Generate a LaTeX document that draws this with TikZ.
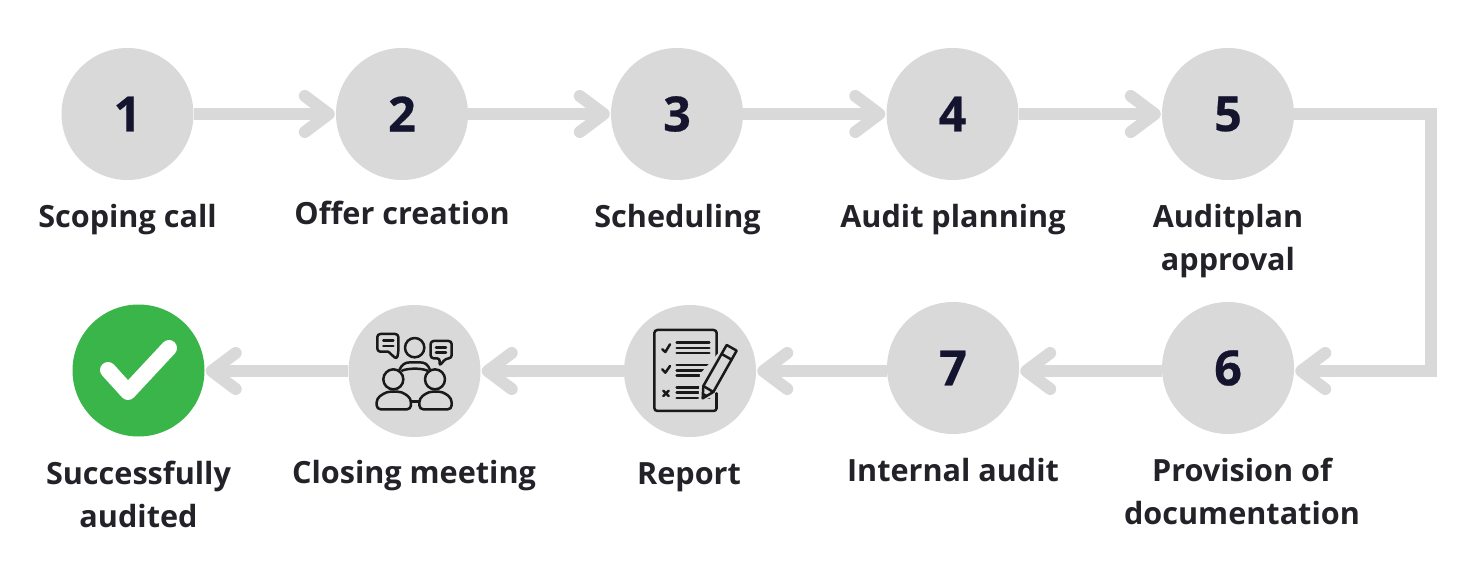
\documentclass[tikz,border=0pt]{standalone}
\usepackage{fontspec}
\setmainfont{Open Sans}
\newfontfamily\digitfont[UprightFont=* Bold,FakeBold=0.5]{Open Sans}
\usetikzlibrary{arrows.meta}
\definecolor{greyc}{HTML}{D9D9D9}
\definecolor{navy}{HTML}{14142E}
\definecolor{labelc}{HTML}{222228}
\definecolor{okgreen}{HTML}{3AB54A}
\tikzset{
  x=1pt,y=-1pt,
  stepcirc/.style={circle,fill=greyc,minimum size=132pt,inner sep=0pt,font=\fontsize{48.5}{48.5}\selectfont\digitfont,text=navy},
  lab/.style={font=\fontsize{30.6}{43}\selectfont\bfseries,text=labelc,align=center,anchor=center,inner sep=0pt},
  flow/.style={draw=greyc,line width=12pt,-{Straight Barb[length=24pt,width=36pt,line cap=round,line join=round,round]},shorten >=1pt},
  flowplain/.style={draw=greyc,line width=12pt},
  ico/.style={draw=black!90,line width=2.5pt,line join=round,line cap=round},
}
\begin{document}
\begin{tikzpicture}
\useasboundingbox (0,0) rectangle (1474,572);
\fill[white] (0,0) rectangle (1474,572);
\node[stepcirc] (c1) at (127.5,114) {1};
\node[stepcirc] (c2) at (402,114) {2};
\node[stepcirc] (c3) at (677,114) {3};
\node[stepcirc] (c4) at (952.5,114) {4};
\node[stepcirc] (c5) at (1228,114) {5};
\node[stepcirc] (c6) at (1228,368) {6};
\node[stepcirc] (c7) at (953,368) {7};
\node[stepcirc] (c8) at (690,371) {};
\node[stepcirc] (c9) at (414.5,371) {};
\node[stepcirc,fill=okgreen] (c10) at (138.5,370.5) {};
\coordinate (elbow) at (1431,114);
\coordinate (elbowb) at (1431,371);
\draw[flow] (c1) -- (c2);
\draw[flow] (c2) -- (c3);
\draw[flow] (c3) -- (c4);
\draw[flow] (c4) -- (c5);
\draw[flowplain] (c5.east) -- ([xshift=6pt]elbow);
\draw[flowplain] (elbow) -- ([yshift=-6pt]elbowb);
\draw[flow] ([xshift=6pt]elbowb) -- ([yshift=-3pt]c6.east);
\draw[flow] ([yshift=-3pt]c6.west) -- ([yshift=-3pt]c7.east);
\draw[flow] ([yshift=-3pt]c7.west) -- (c8.east);
\draw[flow] (c8.west) -- (c9.east);
\draw[flow] (c9.west) -- ([yshift=-.5pt]c10.east);
% labels
\node[lab] (l1) at (127.5,220) {Scoping call};
\node[lab] (l2) at (402,213) {Offer creation};
\node[lab] (l3) at (677.5,220) {Scheduling};
\node[lab] (l4) at (953,220) {Audit planning};
\node[lab] (l5) at (1228,241) {Auditplan\\approval};
\node[lab] (l6) at (1242,491) {Provision of\\documentation};
\node[lab] (l7) at (953,470) {Internal audit};
\node[lab] (l8) at (689,477.5) {Report};
\node[lab] (l9) at (414,476) {Closing meeting};
\node[lab] (l10) at (138.5,494) {Successfully\\audited};
% check mark
\draw[white,line width=16pt,line cap=round,line join=round] (108,370) -- (128,392) -- (169,348);
% meeting icon (reference zoom coordinates)
\begin{scope}[shift={(340,300)},x=0.3333pt,y=-0.3333pt,ico]
\draw[rounded corners=3pt] (145,155) -- (112,155) -- (112,102) -- (175,102) -- (175,160) -- (170,178) -- (145,155);
\draw (130,122) -- (160,122) (130,138) -- (160,138);
\draw (224,143) circle (29);
\draw[rounded corners=3pt] (282,175) -- (272,175) -- (272,123) -- (335,123) -- (335,175) -- (318,175) -- (298,198) -- (300,175) -- (282,175);
\draw (288,143) -- (318,143) (288,158) -- (318,158);
\draw (160,238) circle (30);
\draw (285,238) circle (30);
\draw (178,210) .. controls (186,192) and (196,187) .. (212,187) -- (238,187) .. controls (254,187) and (264,192) .. (270,210);
\draw (186,212) .. controls (205,204) and (245,204) .. (262,212);
\draw[rounded corners=4pt] (110,328) -- (110,295) -- (140,275) -- (185,275) -- (213,295) -- (213,328) -- cycle;
\draw[rounded corners=4pt] (238,328) -- (238,295) -- (266,275) -- (308,275) -- (335,295) -- (335,328) -- cycle;
\draw (213,305) -- (238,305);
\end{scope}
% report icon
\begin{scope}[shift={(620,300)},x=0.3333pt,y=-0.3333pt,ico]
\draw[rounded corners=3pt] (103,90) rectangle (290,333);
\foreach \yy in {128,144,159,195,211,226,262,278,294}{\draw (170,\yy) -- (268,\yy);}
\draw (127,148) -- (136,156) -- (150,133);
\draw (127,208) -- (136,218) -- (150,198);
\draw (130,272) -- (146,288) (146,272) -- (130,288);
\fill[greyc,draw=none] (240,222) -- (325,125) -- (365,150) -- (298,285) -- (235,305) -- cycle;
\draw (248,295) -- (250,258) -- (320,135) -- (350,152) -- (280,276) -- cycle;
\draw (250,258) -- (280,276) (305,162) -- (335,179);
\fill[black!90,draw=none] (248,295) -- (249,278) -- (262,285) -- cycle;
\draw (290,280) -- (290,325);
\end{scope}
\end{tikzpicture}
\end{document}
